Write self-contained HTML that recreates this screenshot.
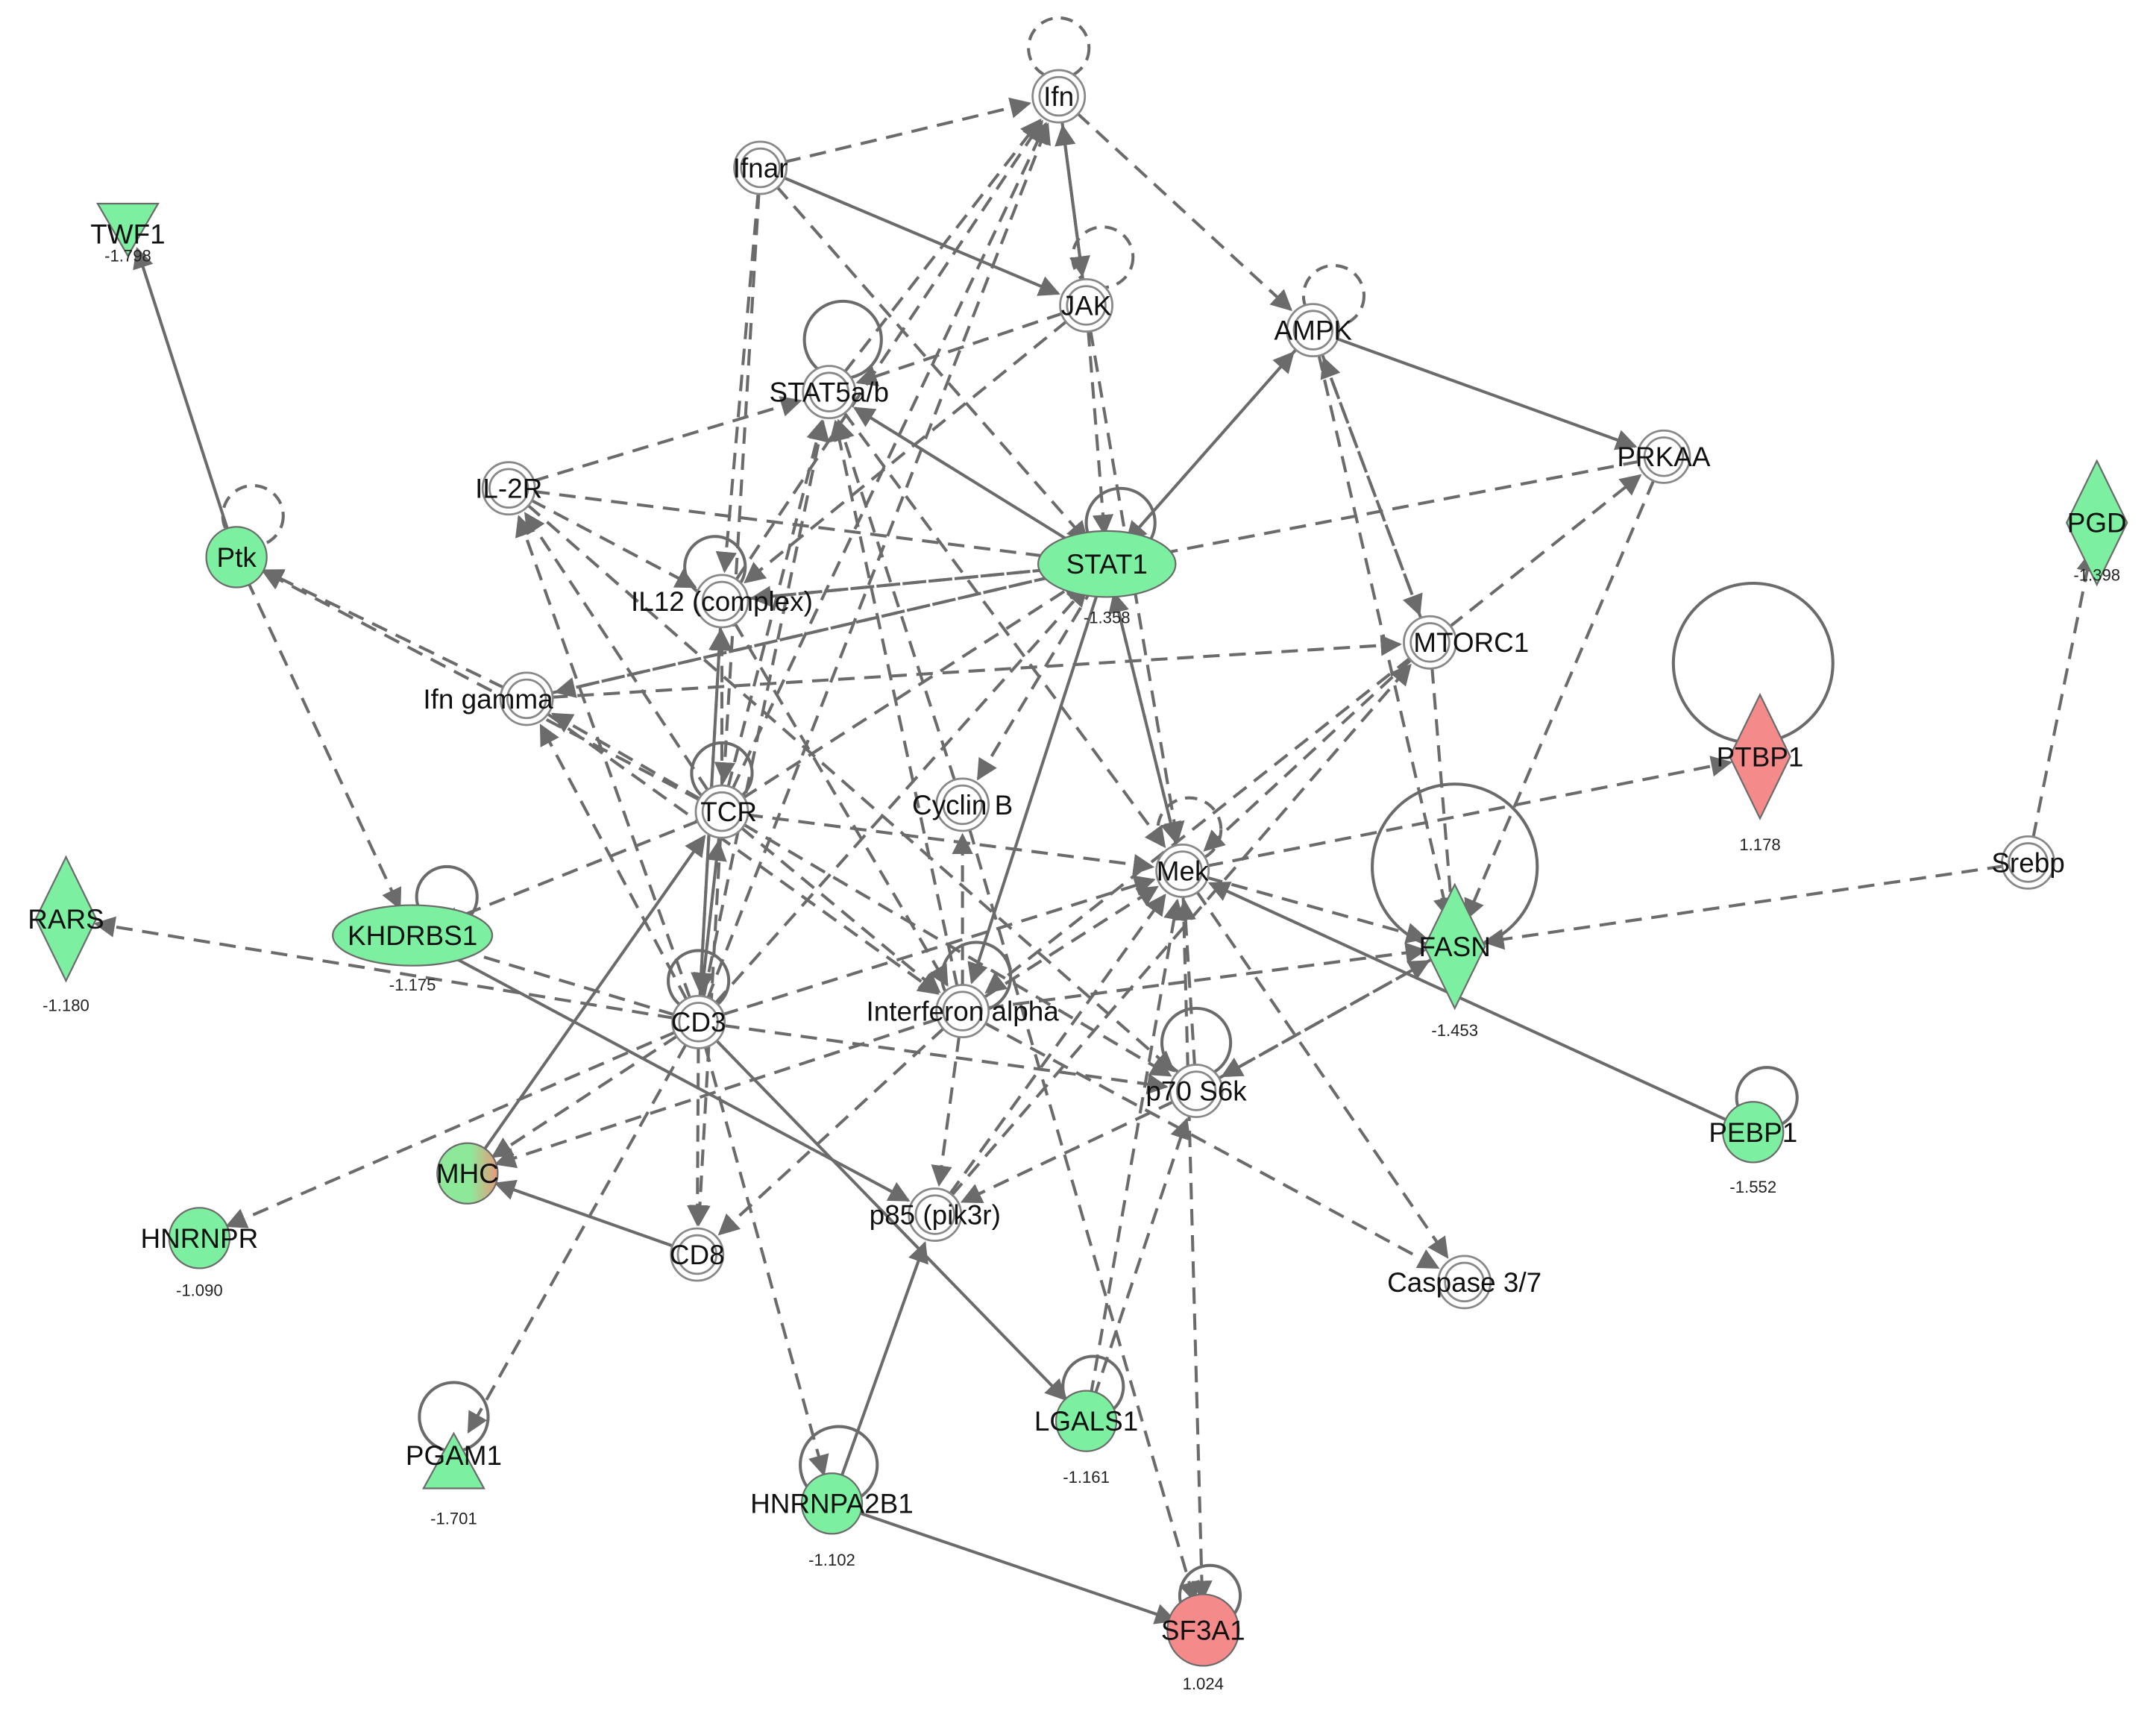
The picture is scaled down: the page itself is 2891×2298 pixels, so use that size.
<!DOCTYPE html>
<html><head><meta charset="utf-8"><style>html,body{margin:0;padding:0;background:#fff}svg{display:block}</style></head>
<body>
<svg id="s" width="2891" height="2298" viewBox="0 0 1568 1246" preserveAspectRatio="none" xmlns="http://www.w3.org/2000/svg" font-family="Liberation Sans, sans-serif">
<defs><marker id="a" viewBox="0 0 10 10" refX="9" refY="5" markerWidth="7" markerHeight="7" orient="auto" markerUnits="strokeWidth"><path d="M0,0L10,5L0,10z" fill="#6b6b6b"/></marker>
<linearGradient id="mg" x1="0" x2="1" y1="0" y2="0"><stop offset="0" stop-color="#8ee89a"/><stop offset="0.55" stop-color="#8ee89a"/><stop offset="1" stop-color="#e89a7a"/></linearGradient></defs>
<rect width="1568" height="1246" fill="#fff"/>
<g id="loops" fill="none" stroke="#6b6b6b" stroke-width="2.2"></g>
<g id="edges" fill="none" stroke="#6b6b6b" stroke-width="2.2"></g>
<g id="nodes"></g>
</svg>
<script>
const N={
Ifn:[770,70,'w'],Ifnar:[553,122,'w'],JAK:[790,222,'w'],AMPK:[955,240,'w'],STAT5:[603,285,'w'],
TWF1:[93,160,'tri'],PRKAA:[1210,332,'w'],PGD:[1525,380,'dia'],IL2R:[370,355,'w'],Ptk:[172,405,'gc'],
STAT1:[805,410,'ell'],IL12:[525,437,'w'],MTORC1:[1040,467,'w'],PTBP1:[1280,550,'rdia'],Ifng:[383,508,'w'],
TCR:[525,590,'w'],CycB:[700,585,'w'],Mek:[860,633,'w'],Srebp:[1475,627,'w'],RARS:[48,668,'dia'],
KHD:[300,680,'ell2'],FASN:[1058,688,'dia'],CD3:[508,743,'w'],IFNa:[700,735,'w'],p70:[870,793,'w'],
PEBP1:[1275,823,'gc'],MHC:[340,853,'mhc'],HNRNPR:[145,900,'gc'],CD8:[507,912,'w'],p85:[680,883,'w'],
Casp:[1065,932,'w'],LGALS1:[790,1033,'gc'],PGAM1:[330,1060,'triu'],HNA:[605,1093,'gc'],SF3A1:[875,1185,'rc']};
const L={Ifn:['Ifn',0,0],Ifnar:['Ifnar',0,0],JAK:['JAK',0,0],AMPK:['AMPK',0,0],STAT5:['STAT5a/b',0,0],TWF1:['TWF1',0,10],
PRKAA:['PRKAA',0,0],PGD:['PGD',0,0],IL2R:['IL-2R',0,0],Ptk:['Ptk',0,0],STAT1:['STAT1',0,0],IL12:['IL12 (complex)',0,0],
MTORC1:['MTORC1',30,0],PTBP1:['PTBP1',0,0],Ifng:['Ifn gamma',-28,0],TCR:['TCR',5,0],CycB:['Cyclin B',0,0],Mek:['Mek',0,0],
Srebp:['Srebp',0,0],RARS:['RARS',0,0],KHD:['KHDRBS1',0,0],FASN:['FASN',0,0],CD3:['CD3',0,0],IFNa:['Interferon alpha',0,0],
p70:['p70 S6k',0,0],PEBP1:['PEBP1',0,0],MHC:['MHC',0,0],HNRNPR:['HNRNPR',0,0],CD8:['CD8',0,0],p85:['p85 (pik3r)',0,0],
Casp:['Caspase 3/7',0,0],LGALS1:['LGALS1',0,0],PGAM1:['PGAM1',0,-2],HNA:['HNRNPA2B1',0,0],SF3A1:['SF3A1',0,0]};
const V={TWF1:['-1.798',190],PGD:['-1.398',422],STAT1:['-1.358',453],PTBP1:['1.178',618],RARS:['-1.180',735],KHD:['-1.175',720],
FASN:['-1.453',753],PEBP1:['-1.552',867],HNRNPR:['-1.090',942],LGALS1:['-1.161',1078],PGAM1:['-1.701',1108],HNA:['-1.102',1138],SF3A1:['1.024',1228]};
const NS='http://www.w3.org/2000/svg';
function el(t,a,p){const e=document.createElementNS(NS,t);for(const k in a)e.setAttribute(k,a[k]);p.appendChild(e);return e;}
const G=document.getElementById('nodes'),E=document.getElementById('edges'),LP=document.getElementById('loops');
const D='9,6';
[['Ifn',0,-35,22,1],['JAK',12,-35,22,1],['AMPK',15,-25,22,1],['STAT5',10,-38,28,0],['STAT1',10,-30,25,0],['Ptk',12,-30,22,1],
['IL12',-5,-25,22,0],['TCR',0,-28,22,0],['Mek',5,-30,23,1],['KHD',25,-28,22,0],['CD3',0,-30,22,0],['IFNa',10,-25,25,0],
['p70',0,-35,25,0],['PEBP1',10,-25,22,0],['PGAM1',0,-30,25,0],['HNA',5,-28,28,0],['LGALS1',5,-25,22,0],['SF3A1',5,-25,22,0],
['PTBP1',-5,-68,58,0],['FASN',0,-58,60,0]].forEach(l=>{const n=N[l[0]];const c=el('circle',{cx:n[0]+l[1],cy:n[1]+l[2],r:l[3]},LP);if(l[4])c.setAttribute('stroke-dasharray',D);});
const ed=`Ifnar Ifn d;Ifnar JAK s;Ifnar STAT1 d;Ifnar IL12 d;Ifn AMPK d;JAK Ifn s;Ifn JAK s;STAT5 Ifn d;CD3 Ifn d;TCR Ifn d;IL12 Ifn d;
JAK STAT1 d;JAK IL12 d;JAK Mek d;JAK STAT5 d;AMPK PRKAA s;AMPK MTORC1 d;MTORC1 AMPK d;AMPK STAT1 d;STAT1 AMPK d;PRKAA STAT1 d;PRKAA FASN d;
MTORC1 PRKAA d;MTORC1 FASN d;AMPK FASN d;STAT1 STAT5 s;IL2R STAT5 d;IL2R STAT1 d;IL12 STAT1 d;Ifng STAT1 d;TCR STAT1 d;CD3 STAT1 d;
STAT1 IL12 d;STAT1 CycB d;STAT1 Mek d;Mek STAT1 d;STAT1 IFNa s;STAT1 Ifng d;Ptk TWF1 s;Ptk KHD d;Ifng Ptk d;TCR IL2R d;CD3 IL2R d;
TCR Ifng d;CD3 Ifng d;TCR IL12 d;CD3 IL12 d;TCR STAT5 d;CD3 STAT5 d;IFNa STAT5 d;CycB STAT5 d;TCR KHD d;CD3 KHD d;CD3 RARS d;
TCR CD3 d;CD3 TCR d;TCR CD8 d;CD3 CD8 d;TCR Mek d;CD3 Mek d;TCR IFNa d;TCR p70 d;CD3 p70 d;CD3 MHC d;CD8 MHC s;MHC TCR s;
CD3 HNRNPR d;CD3 PGAM1 d;CD3 HNA d;CD3 LGALS1 s;KHD p85 s;IFNa MHC d;IFNa CD8 d;IFNa p85 d;IFNa FASN d;IFNa Mek d;IFNa Casp d;
Mek FASN d;PEBP1 Mek s;Mek Casp d;Mek SF3A1 d;p70 Mek d;p85 Mek d;LGALS1 Mek d;LGALS1 p70 d;p85 MTORC1 d;p70 FASN d;FASN p70 d;
Srebp FASN d;Srebp PGD d;Mek PTBP1 d;HNA SF3A1 s;HNA p85 s;MTORC1 Mek d;MTORC1 IFNa d;IL12 IFNa d;IL2R p70 d;Ifng IFNa d;p70 p85 d;
CycB SF3A1 d;Ifng MTORC1 d;IL2R IL12 d;IL12 CD3 d;Ifnar TCR d;STAT5 Mek d;IFNa CycB d;TCR Ptk d`;
ed.split(';').forEach(s=>{const [a,b,t]=s.trim().split(' ');const p=N[a],q=N[b];const dx=q[0]-p[0],dy=q[1]-p[1],d=Math.hypot(dx,dy);
const r1=18,r2=22;const x1=p[0]+dx/d*r1,y1=p[1]+dy/d*r1,x2=q[0]-dx/d*r2,y2=q[1]-dy/d*r2;
const l=el('line',{x1,y1,x2,y2,'marker-end':'url(#a)'},E);if(t=='d')l.setAttribute('stroke-dasharray','12,7');});
const GR='#7cf0a0',RD='#f58a8a',SK='#6b6b6b';
for(const k in N){const [x,y,t]=N[k];
if(t=='w'){el('circle',{cx:x,cy:y,r:19,fill:'#fff',stroke:'#888','stroke-width':1.5},G);el('circle',{cx:x,cy:y,r:14,fill:'#fff',stroke:'#888','stroke-width':1.5},G);}
else if(t=='gc')el('circle',{cx:x,cy:y,r:22,fill:GR,stroke:SK,'stroke-width':1.2},G);
else if(t=='rc')el('circle',{cx:x,cy:y,r:26,fill:RD,stroke:SK,'stroke-width':1.2},G);
else if(t=='mhc'){el('circle',{cx:x,cy:y,r:22,fill:'url(#mg)',stroke:SK,'stroke-width':1.2},G);}
else if(t=='ell')el('ellipse',{cx:x,cy:y,rx:50,ry:24,fill:GR,stroke:SK,'stroke-width':1.2},G);
else if(t=='ell2')el('ellipse',{cx:x,cy:y,rx:58,ry:22,fill:GR,stroke:SK,'stroke-width':1.2},G);
else if(t=='dia'||t=='rdia'){const w=22,h=45;el('polygon',{points:`${x},${y-h} ${x+w},${y} ${x},${y+h} ${x-w},${y}`,fill:t=='rdia'?RD:GR,stroke:SK,'stroke-width':1.2},G);}
else if(t=='tri')el('polygon',{points:`${x-22},${y-12} ${x+22},${y-12} ${x},${y+26}`,fill:GR,stroke:SK,'stroke-width':1.2},G);
else if(t=='triu')el('polygon',{points:`${x-22},${y+22} ${x+22},${y+22} ${x},${y-18}`,fill:GR,stroke:SK,'stroke-width':1.2},G);
const lb=L[k];const tx=el('text',{x:x+lb[1],y:y+7+lb[2],'font-size':20,'text-anchor':'middle',fill:'#111'},G);tx.textContent=lb[0];
if(V[k]){const v=el('text',{x:x,y:V[k][1],'font-size':12,'text-anchor':'middle',fill:'#222'},G);v.textContent=V[k][0];}}
</script>
</body></html>
